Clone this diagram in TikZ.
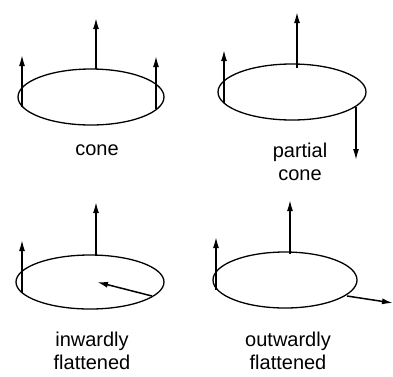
\documentclass[tikz,border=0pt]{standalone}
\usepackage{fontspec}
\setmainfont{Liberation Sans}
\usetikzlibrary{arrows.meta,positioning}

\tikzset{
  ring/.style={line width=1.3pt},
  spin/.style={line width=1.5pt,-{Latex[length=11pt,width=6pt]}},
  caption/.style={font=\fontsize{20}{23}\selectfont,align=center,inner sep=1pt}
}

\begin{document}
\begin{tikzpicture}[x=1pt,y=-1pt]
  \useasboundingbox (0,0) rectangle (393,376);
  % cone
  \draw[ring] (91,97) ellipse (73 and 28);
  \draw[spin] (96,69) -- (96,18);
  \draw[spin] (22,107) -- (22,55);
  \draw[spin] (156,109) -- (156,56);
  \node[caption] (cone) at (97,150) {cone};
  % partial cone
  \draw[ring] (292,92) ellipse (74 and 28);
  \draw[spin] (297,68) -- (297,12);
  \draw[spin] (224,103) -- (224,50);
  \draw[spin] (356,107) -- (356,160);
  \node[caption] (pcone) at (300,162) {partial\\cone};
  % inwardly flattened
  \draw[ring] (90,282) ellipse (74 and 27);
  \draw[spin] (96,256) -- (96,202);
  \draw[spin] (22,293) -- (22,240);
  \draw[spin] (152,296) -- (97,282);
  \node[caption] (inward) at (92,351) {inwardly\\flattened};
  % outwardly flattened
  \draw[ring] (285,280) ellipse (72 and 28);
  \draw[spin] (290,254) -- (290,200);
  \draw[spin] (216,290) -- (216,237);
  \draw[spin] (347,296) -- (393,303);
  \node[caption] (outward) at (288,351) {outwardly\\flattened};
\end{tikzpicture}
\end{document}
